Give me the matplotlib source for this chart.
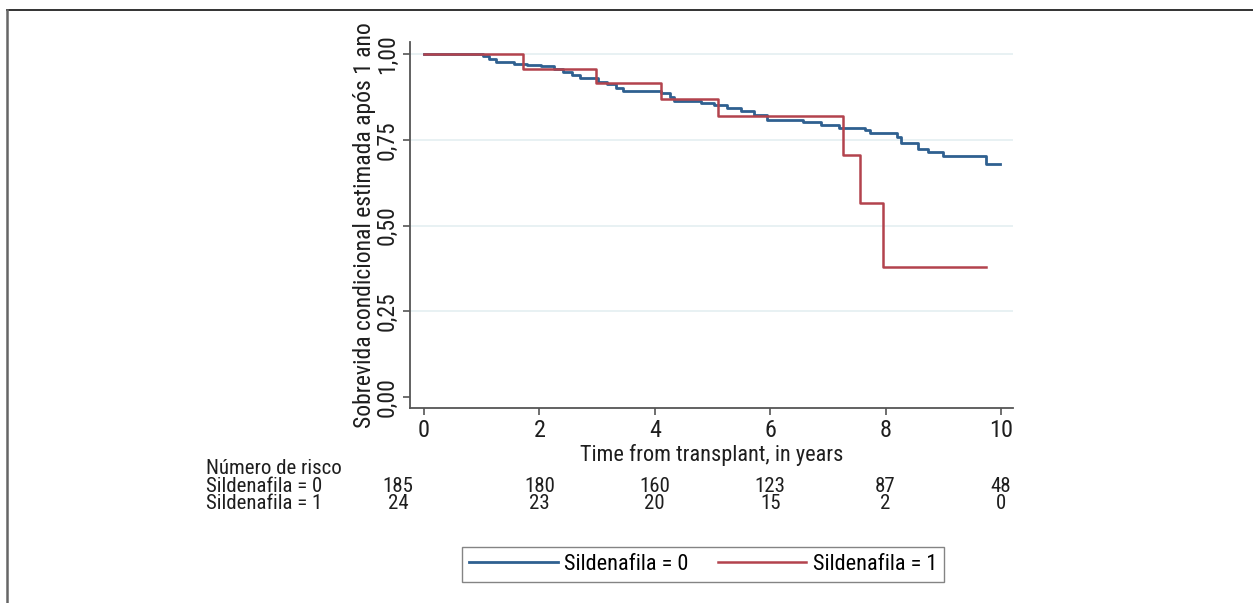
import numpy as np
import matplotlib
matplotlib.use("Agg")
import matplotlib.pyplot as plt
from matplotlib.lines import Line2D
from matplotlib.transforms import blended_transform_factory

plt.rcParams["font.family"] = ["Roboto Condensed", "Liberation Sans", "DejaVu Sans"]

# Kaplan-Meier steps (time in years, survival after the step)
BLUE_T = [0.0, 1.02, 1.13, 1.25, 1.56, 1.79, 2.02, 2.25, 2.41, 2.56, 2.71, 3.02,
          3.18, 3.33, 3.45, 4.10, 4.26, 4.33, 4.80, 5.03, 5.26, 5.49, 5.72, 5.95,
          6.57, 6.88, 7.19, 7.65, 7.73, 8.20, 8.27, 8.56, 8.73, 9.00, 9.74, 9.98]
BLUE_S = [1.000, 0.995, 0.985, 0.978, 0.972, 0.968, 0.964, 0.957, 0.948, 0.938, 0.929, 0.919,
          0.912, 0.902, 0.893, 0.887, 0.876, 0.864, 0.858, 0.851, 0.842, 0.833, 0.823, 0.809,
          0.802, 0.793, 0.785, 0.778, 0.770, 0.758, 0.741, 0.722, 0.713, 0.703, 0.678, 0.678]
RED_T = [0.0, 1.71, 2.98, 4.10, 5.09, 7.26, 7.55, 7.96, 9.75]
RED_S = [1.000, 0.957, 0.915, 0.870, 0.818, 0.705, 0.565, 0.378, 0.378]

GROUPS = ["Sildenafila = 0", "Sildenafila = 1"]
RISK_TIMES = [0, 2, 4, 6, 8, 10]
RISK_0 = [185, 180, 160, 123, 87, 48]
RISK_1 = [24, 23, 20, 15, 2, 0]

X_TICKS = [0, 2, 4, 6, 8, 10]
Y_TICKS = [0.0, 0.25, 0.5, 0.75, 1.0]
Y_TICK_LABELS = ["0,00", "0,25", "0,50", "0,75", "1,00"]
GRID_Y = [0.25, 0.5, 0.75, 1.0]

BLUE = "#2f6090"
RED = "#b3434d"
GREY = "#555555"
TXT = "#1e1e1e"

W, H = 1253, 603
fig = plt.figure(figsize=(W / 100, H / 100), dpi=100)
fig.patch.set_facecolor("white")

# outer frame (top and left only)
fig.add_artist(Line2D([6.5 / W, 1], [1 - 10 / H, 1 - 10 / H], color="#222222", lw=1.3))
fig.add_artist(Line2D([6.5 / W, 6.5 / W], [0, 1 - 10 / H], color="#666666", lw=1.8))

ax = fig.add_axes([410 / W, 1 - 408 / H, 603 / W, 366 / H])
ax.set_xlim(-0.243, 10.21)
ax.set_ylim(-0.032, 1.035)

for g in GRID_Y:
    ax.axhline(g, color="#e6f0f2", lw=1.3, zorder=0)

ax.step(BLUE_T, BLUE_S, where="post", color=BLUE, lw=2.0, zorder=3)
ax.step(RED_T, RED_S, where="post", color=RED, lw=1.8, zorder=4)

for s in ["top", "right"]:
    ax.spines[s].set_visible(False)
for s in ["left", "bottom"]:
    ax.spines[s].set_color(GREY)
    ax.spines[s].set_linewidth(1.3)

ax.set_xticks(X_TICKS)
ax.set_xticklabels([str(t) for t in X_TICKS], fontsize=17.5)
ax.set_yticks(Y_TICKS)
ax.set_yticklabels(Y_TICK_LABELS, fontsize=17, rotation=90, va="center")
ax.tick_params(axis="both", colors=GREY, labelcolor=TXT, length=5, width=1.2)
ax.tick_params(axis="y", pad=3)
ax.tick_params(axis="x", pad=3)

ax.set_ylabel("Sobrevida condicional estimada após 1 ano", fontsize=17, color=TXT, va="center")
ax.yaxis.set_label_coords((364 - 410) / 603, 0.5)
ax.set_xlabel("Time from transplant, in years", fontsize=16, color=TXT, va="center")
ax.xaxis.set_label_coords(0.50, (408 - 455) / 366)

# number at risk table
fs = 15
fig.text(206 / W, 1 - 469 / H, "Número de risco", fontsize=fs, va="center", color=TXT)
trans = blended_transform_factory(ax.transData, fig.transFigure)
for row, (name, counts) in enumerate(zip(GROUPS, [RISK_0, RISK_1])):
    yy = 1 - (487 + 16.5 * row) / H
    fig.text(206 / W, yy, name, fontsize=fs, va="center", color=TXT)
    for t, n in zip(RISK_TIMES, counts):
        xx = -0.45 if t == 0 else t
        ax.text(xx, yy, str(n), transform=trans, fontsize=fs, ha="center",
                va="center", color=TXT, clip_on=False)

handles = [Line2D([], [], color=BLUE, lw=2.0), Line2D([], [], color=RED, lw=1.8)]
leg = fig.legend(handles, GROUPS, loc="center", bbox_to_anchor=(703 / W, 1 - 564.5 / H),
                 ncol=2, fontsize=16, frameon=True, fancybox=False, handlelength=4.0,
                 handletextpad=0.3, columnspacing=1.3, borderpad=0.3, borderaxespad=0)
leg.get_frame().set_edgecolor("#666666")
leg.get_frame().set_linewidth(1.0)

fig.savefig("out.png", dpi=100)
